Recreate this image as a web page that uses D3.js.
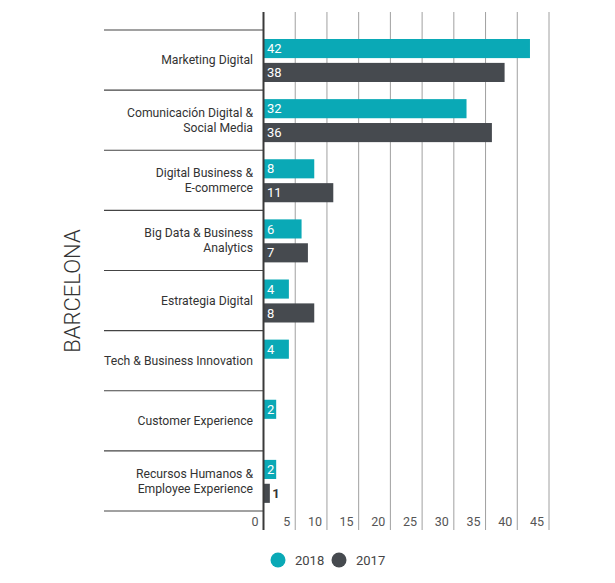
<!DOCTYPE html>
<html>
<head>
<meta charset="utf-8">
<script src="https://cdn.jsdelivr.net/npm/d3@7"></script>
<style>
  html, body { margin: 0; padding: 0; background: #fff; }
  svg { display: block; font-family: Roboto, "Noto Sans", sans-serif; }
</style>
</head>
<body>
<svg id="chart" width="615" height="583"></svg>
<script>
const categories = [
  ["Marketing Digital"],
  ["Comunicación Digital &", "Social Media"],
  ["Digital Business &", "E-commerce"],
  ["Big Data & Business", "Analytics"],
  ["Estrategia Digital"],
  ["Tech & Business Innovation"],
  ["Customer Experience"],
  ["Recursos Humanos &", "Employee Experience"]
];
const series = ["2018", "2017"];
const values2018 = [42, 32, 8, 6, 4, 4, 2, 2];
const values2017 = [38, 36, 11, 7, 8, null, null, 1];
const tickValues = [0, 5, 10, 15, 20, 25, 30, 35, 40, 45];
const title = "BARCELONA";
const colors = { "2018": "#0aa9b6", "2017": "#464a4f" };

const svg = d3.select("#chart");
const x = d3.scaleLinear().domain([0, 45]).range([263.5, 549]);
const y = d3.scaleBand().domain(d3.range(categories.length)).range([30, 511]);
const ys = d3.scaleBand().domain(series).range([9, 52]).paddingInner(0.2);
const gridTop = 12, gridBottom = 530;

// gridlines
svg.append("g").selectAll("line").data(tickValues.filter(d => d > 0)).join("line")
  .attr("x1", d => x(d)).attr("x2", d => x(d))
  .attr("y1", gridTop).attr("y2", gridBottom)
  .attr("stroke", "#a0a0a0").attr("stroke-width", 1);

// tick labels
svg.append("g").selectAll("text").data(tickValues).join("text")
  .attr("x", d => x(d) - 5).attr("y", 522).attr("dy", "0.35em")
  .attr("text-anchor", "end").attr("font-size", 12.5).attr("fill", "#555")
  .text(d => d);

// category separators
const seps = d3.range(categories.length + 1).map(i => i < categories.length ? y(i) : y(categories.length - 1) + y.step());
svg.append("g").selectAll("line").data(seps).join("line")
  .attr("x1", 104).attr("x2", x(0)).attr("y1", d => d).attr("y2", d => d)
  .attr("stroke", "#444").attr("stroke-width", 1.2);

// bars
const rows = [];
categories.forEach((c, i) => {
  rows.push({ i, s: "2018", v: values2018[i] });
  rows.push({ i, s: "2017", v: values2017[i] });
});
const valid = rows.filter(r => r.v != null);
svg.append("g").selectAll("rect").data(valid).join("rect")
  .attr("x", x(0)).attr("y", r => y(r.i) + ys(r.s))
  .attr("width", r => x(r.v) - x(0)).attr("height", ys.bandwidth())
  .attr("fill", r => colors[r.s]);

// bar labels
const inside = r => (x(r.v) - x(0)) > 10;
svg.append("g").selectAll("text").data(valid).join("text")
  .attr("x", r => inside(r) ? x(0) + 3.5 : x(r.v) + 2.5)
  .attr("y", r => y(r.i) + ys(r.s) + ys.bandwidth() / 2).attr("dy", "0.36em")
  .attr("font-size", 13)
  .attr("font-weight", r => inside(r) ? 400 : 700)
  .attr("fill", r => inside(r) ? "#fff" : "#333")
  .text(r => r.v);

// axis line
svg.append("line").attr("x1", x(0)).attr("x2", x(0)).attr("y1", gridTop).attr("y2", gridBottom)
  .attr("stroke", "#3a3a3a").attr("stroke-width", 2);

// category labels
const lg = svg.append("g");
categories.forEach((lines, i) => {
  const cy = y(i) + y.step() / 2;
  const lh = 15;
  const t = lg.append("text").attr("text-anchor", "end").attr("font-size", 12.2).attr("fill", "#333");
  lines.forEach((ln, k) => {
    t.append("tspan").attr("x", 253)
      .attr("y", cy + (k - (lines.length - 1) / 2) * lh).attr("dy", "0.35em").text(ln);
  });
});

// title
svg.append("text").attr("transform", "translate(72,291) rotate(-90)")
  .attr("text-anchor", "middle").attr("dy", "0.35em")
  .attr("font-size", 22).attr("font-weight", 300).attr("fill", "#333")
  .text(title);

// legend
const legX = [278, 339];
const leg = svg.append("g").selectAll("g").data(series).join("g")
  .attr("transform", (d, i) => `translate(${legX[i]},560)`);
leg.append("circle").attr("r", 7.5).attr("fill", d => colors[d]);
leg.append("text").attr("x", 17).attr("dy", "0.35em").attr("font-size", 13).attr("fill", "#444").text(d => d);
</script>
</body>
</html>
